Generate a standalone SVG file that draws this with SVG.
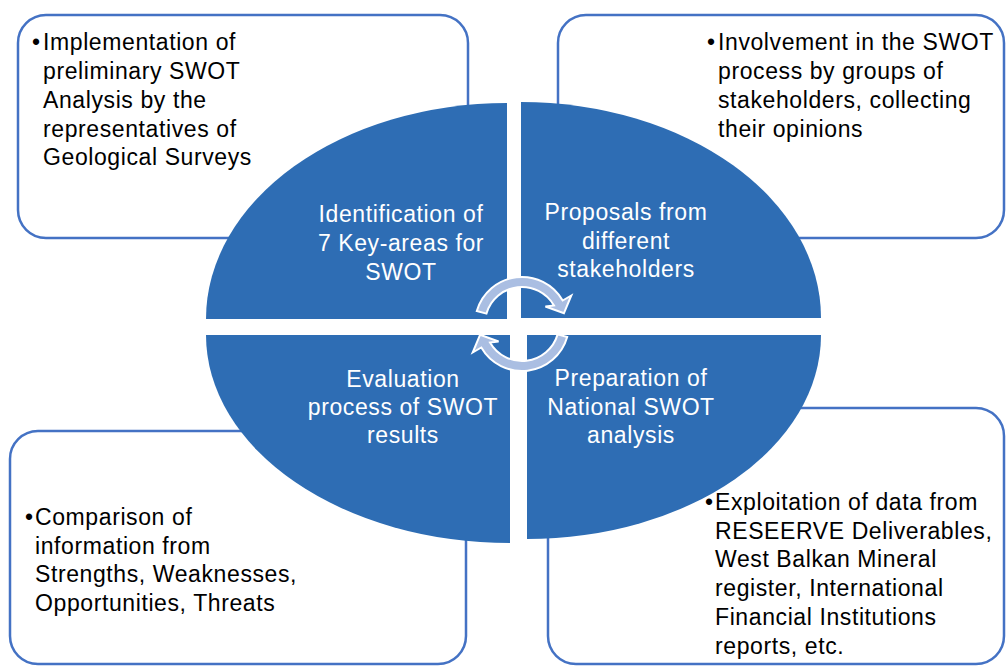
<svg xmlns="http://www.w3.org/2000/svg" width="1006" height="666" viewBox="0 0 1006 666">
<style>
.box{fill:#fff;stroke:#4472C4;stroke-width:2.5}
.quad{fill:#2E6DB4}
.arr{fill:#AABEE2;stroke:#fff;stroke-width:2}
.bt{font-family:"Liberation Sans",Arial,sans-serif;font-size:23px;letter-spacing:0.6px;fill:#000}
.wt{font-family:"Liberation Sans",Arial,sans-serif;font-size:23px;letter-spacing:0.6px;fill:#fff;text-anchor:middle}
</style>
<rect width="1006" height="666" fill="#fff"/>
<g id="box-tl">
<rect class="box" x="18" y="15" width="450" height="223" rx="28"/>
<text class="bt"><tspan x="32" y="50">•</tspan><tspan x="43" y="50">Implementation of</tspan><tspan x="43" y="79">preliminary SWOT</tspan><tspan x="43" y="108">Analysis by the</tspan><tspan x="43" y="137">representatives of</tspan><tspan x="43" y="165">Geological Surveys</tspan></text>
</g>
<g id="box-tr">
<rect class="box" x="558" y="15" width="446" height="223" rx="28"/>
<text class="bt"><tspan x="707" y="50">•</tspan><tspan x="718" y="50">Involvement in the SWOT</tspan><tspan x="718" y="79">process by groups of</tspan><tspan x="718" y="108">stakeholders, collecting</tspan><tspan x="718" y="137">their opinions</tspan></text>
</g>
<g id="box-bl">
<rect class="box" x="10" y="431" width="456" height="233" rx="28"/>
<text class="bt"><tspan x="25" y="525">•</tspan><tspan x="35" y="525">Comparison of</tspan><tspan x="35" y="554">information from</tspan><tspan x="35" y="582">Strengths, Weaknesses,</tspan><tspan x="35" y="611">Opportunities, Threats</tspan></text>
</g>
<g id="box-br">
<rect class="box" x="548" y="408" width="456" height="256" rx="28"/>
<text class="bt"><tspan x="705" y="510">•</tspan><tspan x="715" y="510">Exploitation of data from</tspan><tspan x="715" y="539">RESEERVE Deliverables,</tspan><tspan x="715" y="567">West Balkan Mineral</tspan><tspan x="715" y="596">register, International</tspan><tspan x="715" y="625">Financial Institutions</tspan><tspan x="715" y="654">reports, etc.</tspan></text>
</g>
<g id="quad-tl">
<path class="quad" d="M507,319 L206,319 A301,216 0 0 1 507,103 Z"/>
<text class="wt"><tspan x="401" y="222">Identification of</tspan><tspan x="401" y="251">7 Key-areas for</tspan><tspan x="401" y="280">SWOT</tspan></text>
</g>
<g id="quad-tr">
<path class="quad" d="M521,318 L521,102 A300,216 0 0 1 821,318 Z"/>
<text class="wt"><tspan x="626" y="220">Proposals from</tspan><tspan x="626" y="249">different</tspan><tspan x="626" y="277">stakeholders</tspan></text>
</g>
<g id="quad-bl">
<path class="quad" d="M510,335 L510,543 A304,208 0 0 1 206,335 Z"/>
<text class="wt"><tspan x="403" y="387">Evaluation</tspan><tspan x="403" y="415">process of SWOT</tspan><tspan x="403" y="443">results</tspan></text>
</g>
<g id="quad-br">
<path class="quad" d="M527,335 L821,335 A294,204 0 0 1 527,539 Z"/>
<text class="wt"><tspan x="631" y="386">Preparation of</tspan><tspan x="631" y="415">National SWOT</tspan><tspan x="631" y="443">analysis</tspan></text>
</g>
<g id="connectors">
<path class="arr" d="M476.8,311 A47,47 0 0 1 562.7,300.5 L571.3,295.5 L563.9,313.3 L545.4,306.5 L554.0,305.5 A37,37 0 0 0 486.4,313.6 Z"/>
<path class="arr" d="M567.2,337 A47,47 0 0 1 481.3,347.5 L472.7,352.5 L480.1,334.7 L498.6,341.5 L490.0,342.5 A37,37 0 0 0 557.6,334.4 Z"/>
</g>
</svg>
